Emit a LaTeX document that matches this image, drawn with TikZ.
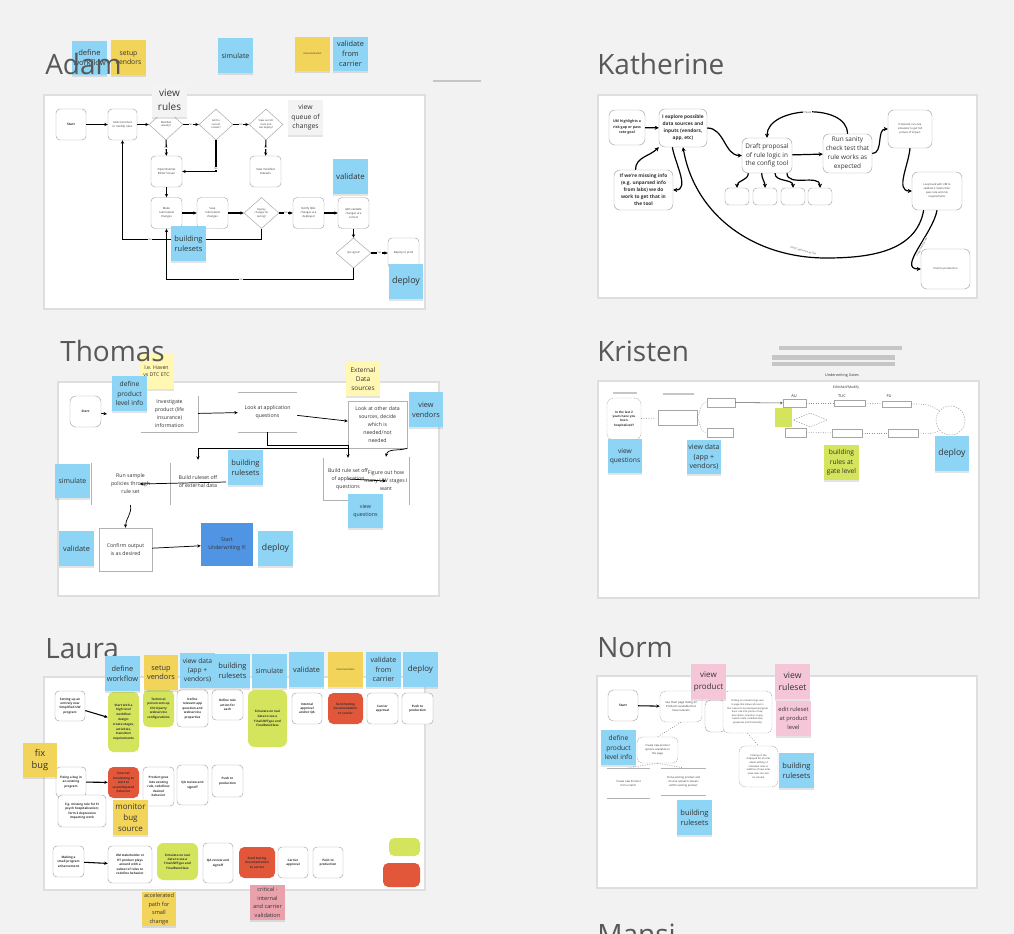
\documentclass[tikz,border=0pt]{standalone}
\usepackage{fontspec}
\setmainfont{Open Sans}
\usetikzlibrary{arrows.meta,shapes.geometric,shadows}
\definecolor{bgcol}{RGB}{242,242,242}
\definecolor{edgecol}{RGB}{222,222,222}
\definecolor{barcol}{RGB}{198,198,198}
\definecolor{noteblue}{RGB}{141,212,245}
\definecolor{noteyellow}{RGB}{242,212,90}
\definecolor{notepale}{RGB}{255,247,178}
\definecolor{notegreen}{RGB}{212,228,92}
\definecolor{notepink}{RGB}{245,198,216}
\definecolor{notecrit}{RGB}{233,162,172}
\definecolor{notered}{RGB}{226,86,58}
\definecolor{notegray}{RGB}{243,243,243}
\definecolor{uwblue}{RGB}{80,148,228}
\definecolor{titlecol}{RGB}{88,88,88}
\tikzset{
  panel/.style={draw=edgecol, line width=1.3pt, fill=white},
  title/.style={anchor=base west, inner sep=0pt, text=titlecol, font=\fontsize{21}{21}\selectfont},
  note/.style={minimum width=26pt, minimum height=26pt, inner sep=0.5pt, align=center, text=black!80,
    font=\fontsize{5.5}{7.2}\selectfont,
    drop shadow={shadow xshift=0pt, shadow yshift=-1.3pt, opacity=0.22}},
  bnote/.style={note, fill=noteblue},
  ynote/.style={note, fill=noteyellow},
  pnote/.style={note, fill=notepale},
  gnote/.style={note, fill=notegreen},
  knote/.style={note, fill=notepink},
  cnote/.style={note, fill=notecrit},
  wnote/.style={note, fill=notegray},
  fs/.style 2 args={font=\fontsize{#1}{#2}\selectfont},
  fb/.style 2 args={font=\fontsize{#1}{#2}\selectfont\bfseries},
  sz/.style 2 args={minimum width={#1*0.75pt}, minimum height={#2*0.75pt}},
  box/.style={draw=black!35, line width=0.35pt, rounded corners=3pt, fill=white, align=center,
    inner sep=0.5pt, text=black!80},
  sqbox/.style={line width=0.35pt, align=center, inner sep=0.5pt, text=black!80},
  thinline/.style={draw=black!30, line width=0.35pt},
  side/.style 2 args={append after command={(\tikzlastnode.#1) edge[thinline] (\tikzlastnode.#2)}},
  dia/.style={diamond, draw=black!35, line width=0.35pt, fill=white, inner sep=0pt, align=center, text=black!80},
  arr/.style={-{Stealth[length=2.6pt,width=2.4pt]}, line width=0.8pt},
  karr/.style={-{Stealth[length=3pt,width=3pt]}, line width=0.9pt},
  tarr/.style={-{Stealth[length=2.6pt,width=2.4pt]}, line width=0.55pt},
  dline/.style={draw=black!45, line width=0.45pt, dash pattern=on 0.6pt off 1.2pt},
  lbl/.style={fill=white, inner sep=0.3pt, text=black!70, font=\fontsize{1.8}{2}\selectfont},
}
\begin{document}
\begin{tikzpicture}[x=0.75pt,y=-0.75pt]
  \fill[bgcol] (0,0) rectangle (1014,934);
  \useasboundingbox (0,0) rectangle (1014,934);
  \clip (0,0) rectangle (1014,934);

  % Adam
  \node[bnote, fs={5.7}{7.4}] (as1) at (89.5,58) {define\\workflow};
  \node[ynote, fs={5.1}{7}] (as2) at (128.5,57.5) {setup\\vendors};
  \node[bnote, fs={5.2}{7}] (as3) at (235.5,55.5) {simulate};
  \node[ynote, fs={1.9}{2.2}] (as4) at (312.5,54) {documentation};
  \node[bnote, fs={5.5}{7.4}] (as5) at (350.5,54) {validate\\from\\carrier};
  \node[title] (adam) at (45,75) {Adam};
  \draw[barcol, line width=1.1pt] (433,81) -- (481,81);
  \draw[panel] (44,95) rectangle (425,309);
  \node[box, sz={30}{31}, fb={2.4}{3}] (a1) at (71,124.5) {Start};
  \node[box, sz={29}{31}, fs={2.1}{3}] (a2) at (122.5,124.5) {Select product\\to modify rules};
  \node[dia, sz={34}{31}, fs={1.9}{2.6}] (a3) at (166,124.5) {Modified\\already?};
  \node[dia, sz={34}{31}, fs={1.9}{2.6}] (a4) at (216,124.5) {Add to\\current\\ruleset?};
  \node[dia, sz={34}{31}, fs={1.9}{2.6}] (a5) at (266,124.5) {View current\\tests and\\last deploy?};
  \node[box, sz={31}{31}, fs={2.1}{3}] (a6) at (166.5,171.5) {Open RuleSet\\Editor Screen};
  \node[box, sz={31}{31}, fs={2.1}{3}] (a7) at (265.5,171.5) {View modified\\Rulesets};
  \node[box, sz={31}{31}, fs={2.1}{3}] (a8) at (166.5,213) {Make\\rule/ruleset\\changes};
  \node[box, sz={31}{31}, fs={2.1}{3}] (a9) at (212.5,213) {Save\\rule/ruleset\\changes};
  \node[dia, sz={35}{31}, fs={1.9}{2.6}] (a10) at (261.5,213) {Deploy\\changes for\\testing?};
  \node[box, sz={31}{31}, fs={2.1}{3}] (a11) at (308.5,213) {Notify QA's\\changes are\\deployed};
  \node[box, sz={31}{31}, fs={2.1}{3}] (a12) at (353.5,213) {QA's validate\\changes are\\correct};
  \node[dia, sz={35}{30}, fs={1.9}{2.6}] (a13) at (353.5,253) {QA signoff};
  \node[box, sz={31}{30}, fs={2.1}{3}] (a14) at (403.5,253) {Deploy to prod};
  \draw[arr] (a1) -- (a2);
  \draw[arr] (a2) -- (a3);
  \draw[arr] (a3) -- node[lbl]{No} (a4);
  \draw[arr] (a4) -- node[lbl]{Yes} (a5);
  \draw[arr] (a3) -- node[lbl]{Yes} (a6);
  \draw[arr] (a4) |- node[lbl, pos=0.45]{No} (a6);
  \draw[arr] (a5) -- node[lbl]{Yes} (a7);
  \draw[arr] (a6) -- (a8);
  \draw[arr] (a8) -- (a9);
  \draw[arr] (a9) -- (a10);
  \draw[arr] (a10) -- node[lbl]{Yes} (a11);
  \draw[arr] (a11) -- (a12);
  \draw[arr] (a12) -- (a13);
  \draw[arr] (a13) -- node[lbl]{Yes} (a14);
  \draw[arr] (a13.south) -- ++(0,11) -| node[lbl, pos=0.3]{No} (a8.south);
  \draw[arr] (a10.south) -- ++(0,10.5) -| node[lbl, pos=0.4]{No} (a2.south);
  \node[wnote, fs={7.5}{10.5}] (as6) at (169.5,100) {view\\rules};
  \node[wnote, fs={5.1}{7}] (as7) at (305.5,117.5) {view\\queue of\\changes};
  \node[bnote, fs={5.6}{7.3}] (as8) at (188.5,243.5) {building\\rulesets};
  \node[bnote, fs={5.9}{7.5}] (as9) at (350.5,176.5) {validate};
  \node[bnote, fs={6.7}{8}] (as10) at (406,281.5) {deploy};

  % Katherine
  \node[title] (kath) at (597,75) {Katherine};
  \draw[panel] (598,95) rectangle (977,298);
  \node[box, rounded corners=4.5pt, sz={36}{35}, fb={2.7}{4.1}] (k1) at (627,127.5) {UM highlights a\\risk gap or pass\\rate goal};
  \node[box, rounded corners=4.5pt, sz={48}{38}, fb={3.6}{5.3}] (k2) at (683,128) {I explore possible\\data sources and\\inputs (vendors,\\app, etc)};
  \node[box, rounded corners=4.5pt, sz={59}{40}, fb={3.6}{5.3}] (k3) at (643.5,190) {If we're missing info\\(e.g. unparsed info\\from labs) we do\\work to get that in\\the tool};
  \node[box, rounded corners=4.5pt, sz={50}{35}, fs={4.8}{6.6}] (k4) at (767,155.5) {Draft proposal\\of rule logic in\\the config tool};
  \node[box, rounded corners=4.5pt, sz={49}{39}, fs={4.8}{6.6}] (k5) at (847.5,153.5) {Run sanity\\check test that\\rule works as\\expected};
  \node[box, rounded corners=4.5pt, sz={44}{38}, fs={2}{3.1}] (k6) at (910,129) {If desired, run rule\\simulator to get full\\picture of impact};
  \node[box, rounded corners=4.5pt, sz={50}{38}, fs={2}{3.1}] (k7) at (937,191) {Loop back with UM to\\validate it meets their\\pass rate and risk\\requirements};
  \node[box, rounded corners=4.5pt, sz={49}{40}, fs={2}{3.1}] (k8) at (945.5,269) {Push to production};
  \node[box, rounded corners=3pt, sz={24}{17}] (k9) at (737,196.5) {};
  \node[box, rounded corners=3pt, sz={24}{17}] (k10) at (765,196.5) {};
  \node[box, rounded corners=3pt, sz={24}{17}] (k11) at (793,196.5) {};
  \node[box, rounded corners=3pt, sz={24}{17}] (k12) at (820,196.5) {};
  \coordinate (kbend) at (826,258);
  \draw[karr] (k1) -- (k2);
  \draw[karr] (k2.east) to[out=0,in=180] (k4.west);
  \draw[karr] ([xshift=-6pt]k3.north) to[out=90,in=225] (k2.south west);
  \draw[karr] ([xshift=-8pt]k2.south) to[out=-80,in=0] (k3.east);
  \draw[karr] (k4) -- (k5);
  \draw[karr] (k5.north) to[out=90,in=90] node[lbl]{If failed} (k4.north);
  \draw[karr] (k5.east) to[out=0,in=180] (k6.west);
  \draw[karr] (k6.south) to[out=-95,in=180] (k7.west);
  \draw[karr] ([xshift=-14pt]k4.south) to[out=-90,in=90] (k9.north);
  \draw[karr] ([xshift=-4pt]k4.south) to[out=-90,in=90] (k10.north);
  \draw[karr] ([xshift=6pt]k4.south) to[out=-90,in=90] (k11.north);
  \draw[karr] ([xshift=15pt]k4.south) to[out=-90,in=90] (k12.north);
  \draw[karr] ([xshift=-10pt]k7.south) to[out=-100,in=0] (kbend) to[out=180,in=-80] (k2.south);
  \draw[karr] (k7.south) to[out=-100,in=180] (k8.west);
  \node[lbl, rotate=-14] (knot) at (803,251) {If NOT approved by UM};
  \node[lbl, rotate=62] (kyes) at (922,247) {If approved by UM};

  % Thomas
  \draw[panel] (58,382) rectangle (439,596);
  \node[box, rounded corners=4.5pt, sz={31}{31}, fb={2.4}{3}] (t1) at (85.5,411.5) {Start};
  \node[sqbox, sz={57}{36}, fs={3.9}{6}, side={north east}{south east}, side={south west}{south east}] (t2) at (169.5,414) {Investigate\\product  (life\\insurance)\\information};
  \node[sqbox, sz={59}{40}, fs={3.9}{6}, side={north west}{north east}, side={south west}{south east}] (t3) at (267.5,412) {Look at application\\questions};
  \node[sqbox, draw=black!30, sz={59}{47}, fs={3.9}{6}] (t4) at (377.5,424.5) {Look at other data\\sources, decide\\which is\\needed/not\\needed};
  \node[sqbox, sz={79}{42}, fs={3.9}{6}, side={north west}{south west}, side={north east}{south east}] (t5) at (130.5,484) {Run sample\\policies through\\rule set};
  \node[sqbox, sz={56}{44}, fs={3.9}{6}] (t6) at (198,482) {Build ruleset off\\of external data};
  \node[sqbox, sz={50}{42}, fs={3.9}{6}, side={north west}{south west}, side={south west}{south east}] (t8) at (348,479) {Build rule set off\\of application\\questions};
  \node[sqbox, sz={46}{48}, fs={3.9}{6}, side={north east}{south east}] (t9) at (386,481) {Figure out how\\many UW stages I\\want};
  \node[sqbox, draw=black!30, fill=white, sz={53}{43}, fs={3.9}{6}] (t10) at (125.5,549.5) {Confirm output\\is as desired};
  \node[sqbox, fill=uwblue, sz={52}{43}, fs={3.9}{6}] (t11) at (227,544.5) {Start\\Underwriting !!!};
  \coordinate (t1end) at (107,414);
  \draw[tarr] (t1) -- (t1end);
  \draw[tarr] (t2) -- (t3);
  \draw[tarr] (t3) -- (t4);
  \draw[tarr] (t3.south) -- ++(0,13) -| (t8.north);
  \draw[tarr] (t4.south west) -| (t6.north);
  \draw[tarr] (t4.south east) to[out=200,in=80] (t9.north);
  \draw[tarr] (t8.center) -- (t9.center);
  \draw[tarr] (t6.east) -- ([xshift=7pt]t5.center);
  \draw[tarr] (t5.south) to[out=-80,in=90] (t10.north);
  \draw[tarr] (t10) -- (t11);
  \node[pnote, fs={3.9}{5.4}] (ts1) at (156.5,371.5) {I.e. Haven\\vs DTC ETC};
  \node[bnote, fs={5}{6.8}] (ts2) at (129.5,393.5) {define\\product\\level info};
  \node[pnote, fs={4.9}{7}] (ts3) at (363,379) {External\\Data\\sources};
  \node[bnote, fs={5.5}{7.3}] (ts4) at (426,409.5) {view\\vendors};
  \node[bnote, fs={5.6}{7.3}] (ts5) at (245.5,467.5) {building\\rulesets};
  \node[bnote, fs={5.2}{7}] (ts6) at (72.5,481) {simulate};
  \node[bnote, fs={5.5}{7}] (ts7) at (76.5,548.5) {validate};
  \node[bnote, fs={6.5}{8}] (ts8) at (275.5,548.5) {deploy};
  \node[bnote, fs={4}{6}] (ts9) at (365.5,511) {view\\questions};
  \node[title] (thomas) at (60,362) {Thomas};

  % Kristen
  \node[title] (kristen) at (597,362) {Kristen};
  \draw[barcol, line width=3pt] (779,348) -- (902,348);
  \draw[barcol, line width=3pt] (772,357.5) -- (895,357.5);
  \draw[barcol, line width=3pt] (772,363.5) -- (895,363.5);
  \node[fs={2.8}{3.2}, text=black!80] (rgates) at (842,376) {Underwriting Gates};
  \draw[panel] (598,381) rectangle (979,598);
  \draw[barcol, line width=2.2pt] (613,393) -- (637,393);
  \draw[barcol, line width=2.2pt] (663,394) -- (694,394);
  \node[fs={2.6}{3}, text=black!80] (redit) at (846,388) {Edit/Add/Modify};
  \node[fs={3}{3.4}, text=black!80] (rau) at (794,396) {AU};
  \node[fs={3}{3.4}, text=black!80] (rtlic) at (842,396) {TLIC};
  \node[fs={3}{3.4}, text=black!80] (rfu) at (889,396) {FU};
  \node[box, rounded corners=5pt, dash pattern=on 1pt off 0.8pt, sz={34}{42}, fb={2.3}{3.3}] (r1) at (624,419) {In the last 2\\years have you\\been\\hospitalized?};
  \node[sqbox, draw=black!35, sz={39}{15}] (r2) at (677.5,417.5) {};
  \node[sqbox, draw=black!35, sz={28}{9}] (r3) at (721,402.5) {};
  \node[sqbox, draw=black!35, sz={26}{9}] (r4) at (720,432.5) {};
  \node[sqbox, draw=black!35, sz={23}{8}] (r5) at (794.5,403) {};
  \node[sqbox, draw=black!35, sz={31}{6}] (r6) at (849.5,403) {};
  \node[sqbox, draw=black!35, sz={29}{6}] (r7) at (896.5,404) {};
  \node[circle, draw=black!40, line width=0.35pt, dash pattern=on 1pt off 1pt, minimum size={29*0.75pt}, inner sep=0pt] (r8) at (950.5,420.5) {};
  \node[fill=notegreen, sz={17}{19}, inner sep=0pt] (r9) at (783.5,417.5) {};
  \node[diamond, draw=black!40, line width=0.35pt, dash pattern=on 1pt off 1pt, sz={34}{14}, inner sep=0pt] (r10) at (810,420) {};
  \node[sqbox, draw=black!35, sz={21}{9}] (r11) at (795.5,432.5) {};
  \node[sqbox, draw=black!35, sz={30}{8}] (r12) at (847,433) {};
  \node[sqbox, draw=black!35, sz={30}{8}] (r13) at (903,433) {};
  \draw[dline] (r1) -- (r2);
  \draw[dline] (r2.east) to[out=60,in=180] (r3.west);
  \draw[dline] (r2.east) to[out=-60,in=180] (r4.west);
  \draw[-{Stealth[length=2pt,width=2pt]}, black!65, line width=0.4pt] (r3) -- (r5);
  \draw[dline] (r5) -- (r6);
  \draw[dline] (r6) -- (r7);
  \draw[dline] (r7.east) to[out=0,in=140] (r8);
  \draw[dline] (r11) -- (r12);
  \draw[dline] (r12) -- (r13);
  \draw[dline] (r13.east) to[out=0,in=-140] (r8);
  \node[bnote, fs={5}{6.8}] (rs1) at (625,456) {view\\questions};
  \node[bnote, fs={5.3}{7}] (rs2) at (704,457) {view data\\(app +\\vendors)};
  \node[gnote, fs={5}{7}] (rs3) at (841.5,462.5) {building\\rules at\\gate level};
  \node[bnote, fs={6.5}{8}] (rs4) at (952,453.5) {deploy};

  % Laura
  \node[title] (laura) at (45,658) {Laura};
  \draw[panel] (44,677) rectangle (425,890);
  \node[box, sz={30}{30}, fb={2.3}{3.3}] (l1) at (70,706) {Setting up an\\entirely new\\Simplified UW\\program};
  \node[box, fill=notegreen, draw=none, rounded corners=4pt, sz={31}{60}, fb={2.3}{3.6}] (l2) at (123.5,722) {Start with a\\high level\\workflow\\design:\\create stages,\\activities,\\transition\\requirements};
  \node[box, fill=notegreen, draw=none, rounded corners=4pt, sz={31}{37}, fb={2.3}{3.3}] (l3) at (158.5,708.5) {Technical\\person sets up\\third party\\webservice\\configurations};
  \node[box, sz={31}{37}, fb={2.3}{3.3}] (l4) at (192.5,708.5) {Define\\relevant app\\question and\\webservice\\properties};
  \node[box, sz={31}{30}, fb={2.3}{3.3}] (l5) at (227.5,705) {Define rule\\action for\\each};
  \node[box, fill=notegreen, draw=none, rounded corners=5pt, sz={39}{57}, fb={2.3}{3.6}] (l6) at (267.5,718.5) {Simulate on real\\data to see a\\FinalUWType and\\FinalRateClass};
  \node[box, sz={30}{31}, fb={2.3}{3.3}] (l7) at (307,708.5) {Internal\\approval\\and/or QA};
  \node[box, fill=notered, draw=none, rounded corners=4pt, sz={35}{31}, fb={2.3}{3.3}] (l8) at (345.5,708.5) {Send testing\\documentation\\to carrier};
  \node[box, sz={31}{31}, fb={2.3}{3.3}] (l9) at (382.5,708.5) {Carrier\\approval};
  \node[box, sz={31}{31}, fb={2.3}{3.3}] (l10) at (417.5,708.5) {Push to\\production};
  \draw[arr] (l1) -- (l2);
  \node[box, sz={30}{30}, fb={2.3}{3.3}] (m1) at (71,782) {Fixing a bug in\\an existing\\program};
  \node[box, fill=notered, draw=none, rounded corners=4pt, sz={31}{31}, fb={2.3}{3.3}] (m2) at (123.5,782.5) {Internal\\monitoring to\\alert to\\unanticipated\\behavior};
  \node[box, sz={31}{39}, fb={2.3}{3.3}] (m3) at (158.5,786.5) {Product goes\\into existing\\rule, redefines\\desired\\behavior};
  \node[box, sz={31}{40}, fb={2.3}{3.3}] (m4) at (192.5,785) {QA review and\\signoff};
  \node[box, sz={31}{32}, fb={2.3}{3.3}] (m5) at (227.5,781) {Push to\\production};
  \node[box, sz={48}{32}, fb={2.3}{3.3}] (m6) at (82,811) {E.g. missing rule for EI\\psych hospitalization;\\Term 2 depression\\impacting work};
  \draw[arr] (m1) -- (m2);
  \node[box, sz={31}{31}, fb={2.3}{3.3}] (s1) at (68.5,861.5) {Making a\\small program\\enhancement};
  \node[box, sz={44}{37}, fb={2.3}{3.3}] (s2) at (130,864.5) {UM stakeholder or\\HT product plays\\around with a\\subset of rules to\\redefine behavior};
  \node[box, fill=notegreen, draw=none, rounded corners=5pt, sz={41}{37}, fb={2.3}{3.3}] (s3) at (177.5,861.5) {Simulate on real\\data to see a\\FinalUWType and\\FinalRateClass};
  \node[box, sz={30}{40}, fb={2.3}{3.3}] (s4) at (218,863) {QA review and\\signoff};
  \node[box, fill=notered, draw=none, rounded corners=4pt, sz={36}{31}, fb={2.3}{3.3}] (s5) at (257,862.5) {Send testing\\documentation\\to carrier};
  \node[box, sz={30}{31}, fb={2.3}{3.3}] (s6) at (293,862.5) {Carrier\\approval};
  \node[box, sz={30}{31}, fb={2.3}{3.3}] (s7) at (328,862.5) {Push to\\production};
  \draw[arr] (s1) -- (s2);
  \node[box, fill=notegreen, draw=none, rounded corners=4pt, sz={31}{18}] (lg1) at (404.5,847) {};
  \node[box, fill=notered, draw=none, rounded corners=4pt, sz={37}{24}] (lg2) at (401.5,875) {};
  \node[bnote, fs={5.5}{7.3}] (ls1) at (122.5,673.5) {define\\workflow};
  \node[ynote, fs={5.5}{7.3}] (ls2) at (161,672.5) {setup\\vendors};
  \node[bnote, fs={5}{6.6}] (ls3) at (197.5,670.5) {view data\\(app +\\vendors)};
  \node[bnote, fs={5.6}{7.3}] (ls4) at (232.5,671) {building\\rulesets};
  \node[bnote, fs={5.2}{7}] (ls5) at (269.5,671) {simulate};
  \node[bnote, fs={5.5}{7}] (ls6) at (306.5,669.5) {validate};
  \node[ynote, fs={1.9}{2.2}] (ls7) at (345.5,669.5) {documentation};
  \node[bnote, fs={5.3}{7.2}] (ls8) at (383.5,669.5) {validate\\from\\carrier};
  \node[bnote, fs={6}{7.5}] (ls9) at (420.5,669.5) {deploy};
  \node[ynote, fs={7}{9.5}] (ls10) at (40,760) {fix\\bug};
  \node[ynote, fs={6}{8.5}] (ls11) at (130.5,817.5) {monitor\\bug\\source};
  \node[ynote, fs={4.2}{6.4}] (ls12) at (159,909) {accelerated\\path for\\small\\change};
  \node[cnote, fs={4.2}{6.4}] (ls13) at (267.5,902.5) {critical -\\internal\\and carrier\\validation};

  % Norm
  \node[title] (norm) at (597,657) {Norm};
  \draw[panel] (597,676) rectangle (977,888);
  \node[box, rounded corners=4pt, sz={30}{31}, fb={2.4}{3}] (n1) at (623,705.5) {Start};
  \node[box, rounded corners=4pt, dash pattern=on 1pt off 0.6pt, sz={42}{31}, fs={2.1}{3}] (n2) at (681,706.5) {See main page listing all\\Products available that\\have rulesets};
  \node[box, rounded corners=4pt, sz={21}{32}] (n3) at (715.5,716) {};
  \node[box, rounded corners=4pt, dash pattern=on 1pt off 0.6pt, sz={49}{42}, fs={1.75}{2.7}] (n4) at (747.5,712) {Clicking on ruleset brings user\\to page that allows all rules in\\that ruleset to be displayed alongside\\basic rule info (name of rule,\\description, Question in app,\\creation date, modified date,\\properties and thresholds)};
  \node[box, rounded corners=5pt, dash pattern=on 1pt off 0.6pt, sz={39}{41}, fs={1.8}{2.8}] (n5) at (758.5,766.5) {Clicking on the\\displayed list of rules\\allows editing of\\individual rules or\\addition of new rules\\(new rules can also\\be cloned)};
  \node[box, rounded corners=4pt, dash pattern=on 1pt off 0.6pt, sz={41}{26}, fs={2}{3}] (n6) at (657.5,750) {Create new product\\options available on\\this page};
  \node[sqbox, sz={43}{30}, fs={2}{3}, side={north west}{north east}, side={south west}{south east}] (n7) at (628.5,783) {Create new Product\\from scratch};
  \node[sqbox, sz={45}{27}, fs={2}{3}, side={north west}{north east}, side={south west}{south east}] (n8) at (683.5,781.5) {Clone existing product and\\choose relevant rulesets\\within existing product};
  \draw[arr] (n1) -- (n2);
  \draw[dline] (n2.south) -- (n6.north);
  \draw[dline] (n4.south) -- (n5.north);
  \draw[dline] (n6.south) -- (n7.north);
  \draw[dline] (n6.south) -- (n8.north);
  \node[knote, fs={6}{8.3}] (ns1) at (708.5,681.5) {view\\product};
  \node[knote, fs={6.5}{8.8}] (ns2) at (792.5,681.5) {view\\ruleset};
  \node[knote, fs={4.3}{6.5}] (ns3) at (793.5,718.5) {edit ruleset\\at product\\level};
  \node[bnote, fs={5}{7}] (ns4) at (618.5,747.5) {define\\product\\level info};
  \node[bnote, fs={5.6}{7.5}] (ns5) at (796.5,770.5) {building\\rulesets};
  \node[bnote, fs={5.6}{7.5}] (ns6) at (694.5,817.5) {building\\rulesets};

  % Mansi
  \node[title] (mansi) at (597,944) {Mansi};
\end{tikzpicture}
\end{document}
